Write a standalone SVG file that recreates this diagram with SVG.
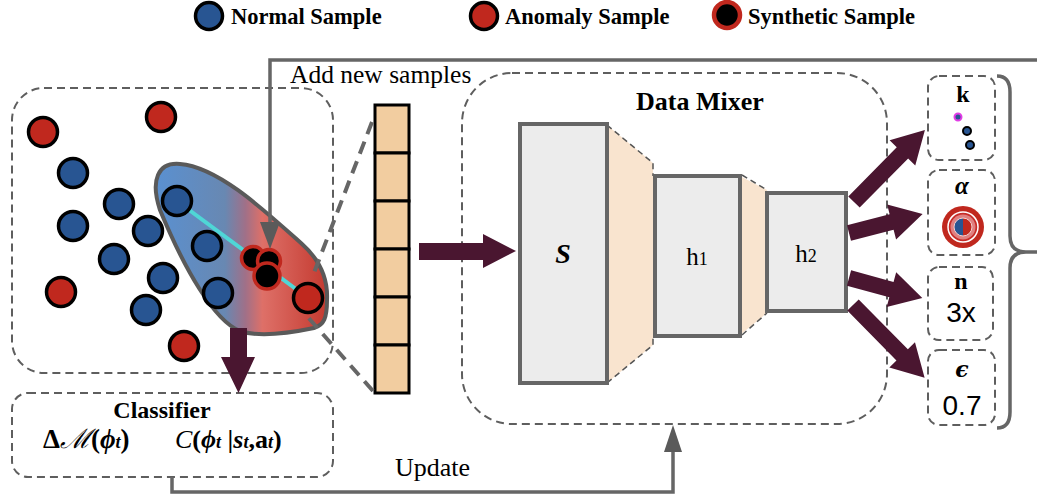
<svg xmlns="http://www.w3.org/2000/svg" width="1037" height="497" viewBox="0 0 1037 497">
  <style>
    .serif { font-family: "Liberation Serif", "Times New Roman", serif; fill: #000; }
    .sans { font-family: "Liberation Sans", Arial, sans-serif; fill: #000; }
    .b { font-weight: bold; }
    .i { font-style: italic; }
    .dash-box { fill: none; stroke: #5e5e5e; stroke-width: 2; stroke-dasharray: 8 5; }
    .normal { fill: #285592; stroke: #000; stroke-width: 3.5; }
    .anomaly { fill: #c0281e; stroke: #000; stroke-width: 3.5; }
    .synth { fill: #000; stroke: #c0281e; stroke-width: 3.5; }
    .layer { fill: #ececec; stroke: #666; stroke-width: 4; }
    .funnel { fill: #f9e4cf; }
    .funnel-edge { fill: none; stroke: #555; stroke-width: 1.5; stroke-dasharray: 6 4; }
    .fat { fill: #4a1630; }
    .gray-line { fill: none; stroke: #666; stroke-width: 3.5; }
    .cell { fill: #f2cda0; stroke: #000; stroke-width: 3; }
  </style>
  <defs>
    <linearGradient id="blobGrad" gradientUnits="userSpaceOnUse" x1="157" y1="0" x2="327" y2="0">
      <stop offset="0" stop-color="#5a90d0"/>
      <stop offset="0.4" stop-color="#6888b2"/>
      <stop offset="0.52" stop-color="#a07088"/>
      <stop offset="0.62" stop-color="#de7068"/>
      <stop offset="1" stop-color="#c43a30"/>
    </linearGradient>
  </defs>

  <!-- legend -->
  <g id="legend">
    <circle class="normal" cx="209" cy="16" r="13.5"/>
    <text class="serif b" x="231" y="24" font-size="22.5">Normal Sample</text>
    <circle class="anomaly" cx="484" cy="16" r="13.5"/>
    <text class="serif b" x="505" y="24" font-size="22.5">Anomaly Sample</text>
    <circle cx="727" cy="15" r="13" fill="#000" stroke="#c0281e" stroke-width="4.5"/>
    <text class="serif b" x="748" y="24" font-size="22.5">Synthetic Sample</text>
  </g>

  <!-- sample space -->
  <g id="sample-space">
    <rect class="dash-box" x="12" y="88" width="321" height="285" rx="32"/>
    <path d="M160,210 C150,180 158,162 180,164 C218,167 264,210 302,244 C321,261 328,280 327,300 C327,318 324,325 314,328 C290,333 258,337 240,331 C214,321 184,268 160,210 Z" fill="url(#blobGrad)" stroke="#5a5a5a" stroke-width="4"/>
    <line x1="177" y1="201" x2="308" y2="298" stroke="#4fd6d6" stroke-width="4"/>
    <circle class="anomaly" cx="43" cy="132" r="14.5"/>
    <circle class="anomaly" cx="161" cy="117" r="14.5"/>
    <circle class="normal" cx="73" cy="173" r="14.5"/>
    <circle class="normal" cx="119" cy="204" r="14.5"/>
    <circle class="normal" cx="73" cy="226" r="14.5"/>
    <circle class="normal" cx="148" cy="231" r="14.5"/>
    <circle class="normal" cx="177" cy="201" r="14.5"/>
    <circle class="normal" cx="207" cy="246" r="14.5"/>
    <circle class="normal" cx="114" cy="259" r="14.5"/>
    <circle class="normal" cx="163" cy="278" r="14.5"/>
    <circle class="normal" cx="218" cy="293" r="14.5"/>
    <circle class="normal" cx="146" cy="310" r="14.5"/>
    <circle class="anomaly" cx="61" cy="292" r="14.5"/>
    <circle class="anomaly" cx="184" cy="346" r="14.5"/>
    <circle class="anomaly" cx="308" cy="298" r="14.5"/>
    <!-- generated points -->
    <circle class="synth" cx="253" cy="258" r="11.5"/>
    <circle class="synth" cx="269" cy="261" r="11.5"/>
    <circle class="synth" cx="267" cy="276" r="13"/>
  </g>

  <!-- classifier -->
  <g id="classifier">
    <rect class="dash-box" x="12" y="393" width="321" height="84" rx="16"/>
    <text class="serif b" x="162" y="418" font-size="24" text-anchor="middle">Classifier</text>
    <text class="serif b" x="43" y="448" font-size="27">Δ<tspan font-style="italic" font-weight="normal">ℳ</tspan>(<tspan font-style="italic">ϕ</tspan><tspan font-style="italic" font-size="18">t</tspan>)</text>
    <text class="serif b" x="175" y="448" font-size="26"><tspan font-style="italic" font-weight="normal">C</tspan>(<tspan font-style="italic">ϕ</tspan><tspan font-style="italic" font-size="18">t</tspan> |<tspan font-style="italic">s</tspan><tspan font-style="italic" font-size="18">t</tspan>,a<tspan font-style="italic" font-size="18">t</tspan>)</text>
  </g>

  <!-- sample buffer -->
  <g id="buffer">
    <rect class="cell" x="375" y="105" width="34" height="48"/>
    <rect class="cell" x="375" y="153" width="34" height="48"/>
    <rect class="cell" x="375" y="201" width="34" height="48"/>
    <rect class="cell" x="375" y="249" width="34" height="48"/>
    <rect class="cell" x="375" y="297" width="34" height="48"/>
    <rect class="cell" x="375" y="345" width="34" height="48"/>
  </g>

  <!-- data mixer network -->
  <g id="data-mixer">
    <rect class="dash-box" x="462" y="73" width="425" height="351" rx="50"/>
    <text class="serif b" x="636" y="110" font-size="26">Data Mixer</text>
    <polygon class="funnel" points="607,125 653,163 653,345 607,383"/>
    <polyline class="funnel-edge" points="607,125 653,163 653,176"/>
    <polyline class="funnel-edge" points="607,383 653,345 653,336"/>
    <polygon class="funnel" points="740,176 767,190 767,313 740,335"/>
    <line class="funnel-edge" x1="742" y1="175" x2="767" y2="190"/>
    <line class="funnel-edge" x1="742" y1="335" x2="767" y2="313"/>
  </g>
  <g id="layer-s">
    <rect class="layer" x="520" y="124" width="87" height="259"/>
    <text class="serif b i" x="563" y="263" font-size="28" text-anchor="middle">S</text>
  </g>
  <g id="layer-h1">
    <rect class="layer" x="655" y="176" width="85" height="160"/>
    <text class="serif" x="697" y="265" font-size="25" text-anchor="middle">h<tspan font-size="18">1</tspan></text>
  </g>
  <g id="layer-h2">
    <rect class="layer" x="767" y="193" width="79" height="118"/>
    <text class="serif" x="806" y="262" font-size="25" text-anchor="middle">h<tspan font-size="18">2</tspan></text>
  </g>

  <!-- mixing parameters -->
  <g id="param-k">
    <rect class="dash-box" x="928" y="76" width="67" height="84" rx="11"/>
    <text class="serif b" x="963" y="102" font-size="24" text-anchor="middle">k</text>
    <circle cx="958" cy="117" r="3.5" fill="#285592" stroke="#e23ce6" stroke-width="2"/>
    <circle cx="967" cy="131" r="4" fill="#285592" stroke="#000" stroke-width="2"/>
    <circle cx="970" cy="145" r="4" fill="#285592" stroke="#000" stroke-width="2"/>
  </g>
  <g id="param-alpha">
    <rect class="dash-box" x="928" y="170" width="67" height="85" rx="11"/>
    <text class="serif b i" x="962" y="194" font-size="25" text-anchor="middle">α</text>
    <circle cx="963" cy="227" r="21" fill="#c0281e"/>
    <circle cx="963" cy="227" r="15" fill="#c82c28" stroke="#fff" stroke-width="1.5"/>
    <circle cx="963" cy="227" r="12.5" fill="#e08080"/>
    <path d="M963,218 A9,9 0 0 0 963,236 Z" fill="#285592"/>
    <path d="M963,218 A9,9 0 0 1 963,236 Z" fill="#c0281e"/>
    <circle cx="963" cy="227" r="9" fill="none" stroke="#f3d0d0" stroke-width="1"/>
  </g>
  <g id="param-n">
    <rect class="dash-box" x="928" y="267" width="65" height="73" rx="11"/>
    <text class="serif b" x="961" y="289" font-size="24" text-anchor="middle">n</text>
    <text class="sans" x="961" y="322" font-size="28" text-anchor="middle">3x</text>
  </g>
  <g id="param-eps">
    <rect class="dash-box" x="928" y="350" width="67" height="75" rx="11"/>
    <text class="b i" x="962" y="377" font-size="22" text-anchor="middle" font-family="'DejaVu Serif', 'Liberation Serif', serif">ϵ</text>
    <text class="sans" x="962" y="415" font-size="28" text-anchor="middle">0.7</text>
  </g>
  <g id="brace">
    <path class="gray-line" d="M997,76 Q1010,76 1010,92 L1010,236 Q1010,252 1026,252 L1037,252 M1026,252 Q1010,252 1010,268 L1010,412 Q1010,428 997,428" stroke-width="4"/>
  </g>

  <!-- connectors -->
  <g id="connectors">
    <!-- feedback of new samples -->
    <polyline class="gray-line" points="1037,60 270,60 270,226"/>
    <polygon points="260,222 280,222 270,249" fill="#5a5a5a"/>
    <text class="serif" x="290" y="83" font-size="25.5">Add new samples</text>
    <!-- update loop -->
    <polyline class="gray-line" points="172,477 172,492 673,492 673,450"/>
    <polygon points="664,452 682,452 673,425" fill="#5a5a5a"/>
    <text class="serif" x="395" y="476" font-size="26">Update</text>
    <!-- zoom guides to the buffer -->
    <line x1="372" y1="122" x2="312" y2="278" stroke="#666" stroke-width="4" stroke-dasharray="13 8"/>
    <line x1="373" y1="391" x2="306" y2="315" stroke="#666" stroke-width="4" stroke-dasharray="13 8"/>
    <!-- thick flow arrows -->
    <polygon class="fat" points="230,328 247,328 247,357 255,357 238.5,393 221,357 230,357"/>
    <polygon class="fat" points="419,243 483,243 483,234 516,251 483,268 483,260 419,260"/>
    <g transform="translate(854,202) rotate(-45.4)">
      <polygon class="fat" points="0,-8 69,-8 69,-18 101,0 69,18 69,8 0,8"/>
    </g>
    <g transform="translate(849,233) rotate(-14.4)">
      <polygon class="fat" points="0,-8 44,-8 44,-18 76,0 44,18 44,8 0,8"/>
    </g>
    <g transform="translate(849,278) rotate(15.3)">
      <polygon class="fat" points="0,-8 44,-8 44,-18 76,0 44,18 44,8 0,8"/>
    </g>
    <g transform="translate(853,305) rotate(45.4)">
      <polygon class="fat" points="0,-8 70,-8 70,-18 102,0 70,18 70,8 0,8"/>
    </g>
  </g>
</svg>
